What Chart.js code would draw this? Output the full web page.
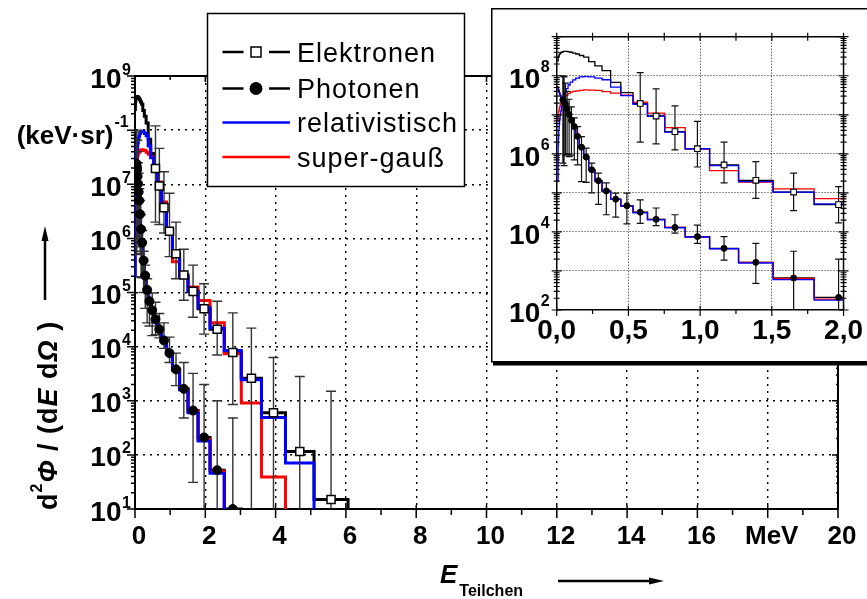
<!DOCTYPE html>
<html>
<head>
<meta charset="utf-8">
<script src="https://cdn.jsdelivr.net/npm/chart.js@4.4.1/dist/chart.umd.min.js"></script>
<style>
  html, body { margin: 0; padding: 0; background: #fff; }
  #wrap { position: relative; width: 867px; height: 599px; overflow: hidden; }
  #mainChart { position: absolute; left: 0; top: 0; }
  #insetChart { position: absolute; left: 491px; top: 8px; }
</style>
</head>
<body>
<div id="wrap">
  <canvas id="mainChart" width="867" height="599"></canvas>
  <canvas id="insetChart" width="376" height="358"></canvas>
</div>
<script>
const FONT = '"Liberation Sans", Arial, Helvetica, sans-serif';

// Bin edges in MeV (log spaced energy bins)
const binEdges = [0, 0.010, 0.012, 0.014, 0.017, 0.020, 0.024, 0.028, 0.033, 0.039,
  0.047, 0.056, 0.066, 0.079, 0.094, 0.112, 0.133, 0.158, 0.188, 0.223, 0.266, 0.316,
  0.376, 0.447, 0.532, 0.633, 0.753, 0.896, 1.066, 1.268, 1.509, 1.795, 2.136, 2.541,
  3.024, 3.598, 4.281, 5.094, 6.061];

// d2Phi/(dE dOmega) per bin, (keV sr)^-1 ; 0 = empty bin
const electronMeasured = [2.4e8, 2.9e8, 3.1e8, 3.2e8, 3.5e8, 3.6e8, 3.8e8, 3.9e8, 4.0e8, 4.1e8,
  4.2e8, 4.2e8, 4.2e8, 4.1e8, 4.0e8, 3.8e8, 3.6e8, 3.3e8, 3.0e8, 2.3e8, 1.8e8, 1.35e8,
  6.8e7, 3.7e7, 1.95e7, 9.3e6, 3.7e6, 1.35e6, 5.2e5, 2.1e5, 1.05e5, 5.0e4, 2.1e4, 7.8e3,
  2.6e3, 600, 115, 15];
const electronRel = [2e5, 1.6e6, 2.5e6, 4e6, 5.6e6, 7.4e6, 1e7, 1.26e7, 1.66e7, 2.3e7,
  2.95e7, 3.8e7, 4.7e7, 5.8e7, 6.9e7, 7.8e7, 8.7e7, 9.3e7, 9.5e7, 9.3e7, 8.7e7, 7.9e7,
  5.1e7, 3.1e7, 1.86e7, 9.1e6, 3.6e6, 1.35e6, 5.0e5, 1.95e5, 1.05e5, 5.2e4, 2.2e4, 8.5e3,
  2.45e3, 490, 71, 0];
const electronGauss = [7e6, 1e7, 1.1e7, 1.23e7, 1.38e7, 1.6e7, 1.78e7, 2e7, 2.24e7, 2.45e7,
  2.7e7, 3e7, 3.2e7, 3.55e7, 3.8e7, 4e7, 4.1e7, 4.2e7, 4.35e7, 4.3e7, 4.2e7, 3.9e7,
  3.6e7, 3.2e7, 2.1e7, 1.1e7, 4.7e6, 1.35e6, 3.7e5, 1.9e5, 1.26e5, 7.1e4, 2.75e4, 7.4e3,
  910, 39, 0, 0];
const photonMeasured = [5.2e7, 4.7e7, 4.4e7, 4.1e7, 3.8e7, 3.5e7, 3.2e7, 2.95e7, 2.7e7, 2.4e7,
  2.1e7, 1.86e7, 1.4e7, 1.02e7, 7.2e6, 5e6, 2.8e6, 1.48e6, 8.3e5, 3.9e5, 2.05e5, 1.12e5,
  6.9e4, 4.7e4, 3.2e4, 2.1e4, 1.3e4, 7.6e3, 3.8e3, 1.66e3, 660, 210, 52, 10,
  0, 0, 0, 0];
const photonRel = [5.0e7, 4.6e7, 4.3e7, 4.0e7, 3.7e7, 3.4e7, 3.1e7, 2.85e7, 2.6e7, 2.3e7,
  2.0e7, 1.75e7, 1.35e7, 9.8e6, 7.0e6, 4.8e6, 2.7e6, 1.42e6, 8.0e5, 3.8e5, 2.0e5, 1.1e5,
  6.8e4, 4.6e4, 3.1e4, 2.05e4, 1.28e4, 7.4e3, 3.7e3, 1.6e3, 600, 180, 46, 0,
  0, 0, 0, 0];
const photonGauss = [5.1e7, 4.6e7, 4.3e7, 4.0e7, 3.7e7, 3.4e7, 3.1e7, 2.9e7, 2.65e7, 2.35e7,
  2.05e7, 1.8e7, 1.37e7, 1.0e7, 7.1e6, 4.9e6, 2.75e6, 1.45e6, 8.1e5, 3.85e5, 2.0e5, 1.1e5,
  6.8e4, 4.6e4, 3.15e4, 2.1e4, 1.3e4, 7.5e3, 3.75e3, 1.65e3, 640, 190, 50, 0,
  0, 0, 0, 0];

// error bar limits (null = no marker in that bin, 0 = bar runs off the axis)
const electronErrHigh = [null, null, null, null, null, null, null, null, null, null,
  null, null, null, null, null, null, null, null, null, null, null, null, null, null,
  1.2e8, 4.6e7, 1.7e7, 6.8e6, 2e6, 6.3e5, 3.2e5, 1.45e5, 6.9e4, 4.2e4, 2.2e4, 6.3e3, 2.8e3, 1.5e3];
const electronErrLow = [null, null, null, null, null, null, null, null, null, null,
  null, null, null, null, null, null, null, null, null, null, null, null, null, null,
  2e6, 1.8e6, 1.26e6, 4.6e5, 1.8e5, 7.2e4, 3.5e4, 1.7e4, 7e3, 850, 0, 0, 0, 0];
const photonErrHigh = [null, null, null, null, null, null, null, null, null,
  1e8, 9.3e7, 6.5e7, 4e7, 2.5e7, 1.6e7, 8.3e6, 5e6, 2.75e6, 1.4e6, 5.8e5, 3.2e5, 1.8e5,
  9.8e4, 9.8e4, 6.6e4, 4.1e4, 2.75e4, 1.5e4, 7.6e3, 5.1e3, 3.2e3, 2e3, 1e3, 480,
  null, null, null, null];
const photonErrLow = [null, null, null, null, null, null, null, null, null,
  5.8e5, 5e5, 9.3e5, 1e6, 8.5e5, 9.3e5, 7e5, 5.2e5, 1.95e5, 1.86e5, 1e5, 5.1e4, 2.75e4,
  2.4e4, 1.6e4, 1.66e4, 1.45e4, 9.3e3, 5.1e3, 1.9e3, 480, 31, 0, 0, 0,
  null, null, null, null];

const seriesNames = ['Elektronen', 'Photonen', 'relativistisch', 'super-gauß'];
const mainXTicks = [0, 2, 4, 6, 8, 10, 12, 14, 16, 'MeV', 20];

const FLOOR = 1; // empty bins go below the axis and get clipped

function stepPoints(vals) {
  const pts = vals.map((v, i) => ({ x: binEdges[i], y: v > 0 ? v : FLOOR }));
  const n = vals.length;
  pts.push({ x: binEdges[n], y: pts[n - 1].y });
  pts.push({ x: binEdges[n], y: FLOOR });
  return pts;
}

function markers(vals, hi, lo) {
  const pts = [], h = [], l = [];
  vals.forEach((v, i) => {
    if (hi[i] === null) return;
    pts.push({ x: (binEdges[i] + binEdges[i + 1]) / 2, y: v > 0 ? v : FLOOR });
    h.push(hi[i]);
    l.push(lo[i]);
  });
  return { pts, h, l };
}

function buildDatasets(s) {
  const line = (vals, color, order) => ({
    data: stepPoints(vals), borderColor: color, borderWidth: s.lw, stepped: 'before',
    pointRadius: 0, fill: false, order, borderJoinStyle: 'miter'
  });
  const e = markers(electronMeasured, electronErrHigh, electronErrLow);
  const p = markers(photonMeasured, photonErrHigh, photonErrLow);
  return [
    line(electronMeasured, '#000', 3),
    line(photonMeasured, '#000', 3),
    line(electronGauss, '#ff0000', 2),
    line(photonGauss, '#ff0000', 2),
    line(electronRel, '#0000ff', 1),
    line(photonRel, '#0000ff', 1),
    { data: e.pts, errHigh: e.h, errLow: e.l, showLine: false, order: 0, clip: 0,
      pointStyle: 'rect', pointRadius: s.sq, pointBackgroundColor: '#fff',
      pointBorderColor: '#000', pointBorderWidth: s.mw },
    { data: p.pts, errHigh: p.h, errLow: p.l, showLine: false, order: 0, clip: 0,
      pointStyle: 'circle', pointRadius: s.dot, pointBackgroundColor: '#000',
      pointBorderColor: '#000', pointBorderWidth: 1 }
  ];
}

function isDecade(v) {
  const l = Math.log10(v);
  return Math.abs(l - Math.round(l)) < 1e-6;
}

// error bars are drawn just before the marker dataset
const errorBars = {
  id: 'errorBars',
  beforeDatasetDraw(chart, args, opts) {
    const ds = chart.data.datasets[args.index];
    if (!ds.errHigh) return;
    const { ctx, chartArea: a, scales: { x, y } } = chart;
    ctx.save();
    ctx.beginPath();
    ctx.rect(a.left, a.top, a.right - a.left, a.bottom - a.top);
    ctx.clip();
    ctx.strokeStyle = opts.color;
    ctx.lineWidth = opts.width;
    ctx.beginPath();
    ds.data.forEach((pt, i) => {
      const px = x.getPixelForValue(pt.x);
      const yh = y.getPixelForValue(ds.errHigh[i]);
      const lo = ds.errLow[i] > 0 ? ds.errLow[i] : FLOOR;
      const yl = y.getPixelForValue(lo);
      ctx.moveTo(px, yh); ctx.lineTo(px, yl);
      ctx.moveTo(px - opts.cap, yh); ctx.lineTo(px + opts.cap, yh);
      if (ds.errLow[i] > 0) { ctx.moveTo(px - opts.cap, yl); ctx.lineTo(px + opts.cap, yl); }
    });
    ctx.stroke();
    ctx.restore();
  }
};

function drawRich(ctx, segs, x, y) {
  let cx = x;
  segs.forEach(sg => {
    ctx.font = sg.font;
    ctx.fillText(sg.t, cx, y + (sg.dy || 0));
    cx += ctx.measureText(sg.t).width;
  });
}

function drawLegend(ctx) {
  ctx.save();
  ctx.fillStyle = '#fff';
  ctx.fillRect(207.5, 13.5, 257, 173);
  ctx.strokeStyle = '#000';
  ctx.lineWidth = 1.5;
  ctx.strokeRect(207.5, 13.5, 257, 173);
  const rows = [
    { color: '#000', mark: 'square', y: 52 },
    { color: '#000', mark: 'circle', y: 88.5 },
    { color: '#0000ff', y: 122.5 },
    { color: '#ff0000', y: 157 }
  ];
  rows.forEach((r, i) => {
    ctx.strokeStyle = r.color;
    ctx.lineWidth = 2.5;
    ctx.beginPath();
    if (r.mark) {
      ctx.moveTo(222.5, r.y); ctx.lineTo(243.5, r.y);
      ctx.moveTo(269, r.y); ctx.lineTo(290, r.y);
    } else {
      ctx.moveTo(222.5, r.y); ctx.lineTo(290, r.y);
    }
    ctx.stroke();
    ctx.lineWidth = 1.5;
    if (r.mark === 'square') {
      ctx.fillStyle = '#fff';
      ctx.fillRect(251, r.y - 5, 10, 10);
      ctx.strokeRect(251, r.y - 5, 10, 10);
    } else if (r.mark === 'circle') {
      ctx.fillStyle = '#000';
      ctx.beginPath(); ctx.arc(256, r.y, 6.5, 0, Math.PI * 2); ctx.fill();
    }
    ctx.fillStyle = '#000';
    ctx.font = `27px ${FONT}`;
    ctx.letterSpacing = '1px';
    ctx.textAlign = 'left';
    ctx.textBaseline = 'alphabetic';
    ctx.fillText(seriesNames[i], 297, r.y + 9.5);
    ctx.letterSpacing = '0px';
  });
  ctx.restore();
}

const mainDecor = {
  id: 'mainDecor',
  afterDraw(chart) {
    const { ctx, chartArea: a, scales: { x, y } } = chart;
    ctx.save();
    ctx.strokeStyle = '#000';
    ctx.fillStyle = '#000';
    ctx.lineWidth = 2;
    ctx.beginPath();
    ctx.moveTo(a.left - 1, a.top); ctx.lineTo(a.right, a.top); ctx.lineTo(a.right, a.bottom);
    ctx.stroke();

    // tick marks
    ctx.lineWidth = 1.5;
    ctx.beginPath();
    for (let e = 0; e <= 20; e++) {
      const px = x.getPixelForValue(e);
      const major = e % 2 === 0;
      ctx.moveTo(px, a.bottom - (major ? 4 : 0)); ctx.lineTo(px, a.bottom + (major ? 9 : 6));
      ctx.moveTo(px, a.top); ctx.lineTo(px, a.top + (major ? 6 : 4));
    }
    for (let n = 1; n <= 9; n++) {
      for (let m = 1; m <= 9; m++) {
        if (n === 9 && m > 1) break;
        const py = y.getPixelForValue(m * Math.pow(10, n));
        const len = m === 1 ? 8 : 4;
        ctx.moveTo(a.left - len, py); ctx.lineTo(a.left, py);
        ctx.moveTo(a.right - len + 2, py); ctx.lineTo(a.right, py);
      }
    }
    ctx.stroke();

    // y tick labels with exponents
    ctx.textBaseline = 'alphabetic';
    for (let n = 1; n <= 9; n++) {
      const py = y.getPixelForValue(Math.pow(10, n));
      if (n === 8) {
        ctx.textAlign = 'right';
        ctx.font = `bold 26px ${FONT}`;
        ctx.fillText('(keV·sr)', 113.5, py + 13.5);
        ctx.textAlign = 'left';
        ctx.font = `bold 16px ${FONT}`;
        ctx.fillText('-1', 114.5, py - 3);
      } else {
        ctx.textAlign = 'right';
        ctx.font = `bold 28px ${FONT}`;
        ctx.fillText('10', 121.5, py + 11.5);
        ctx.textAlign = 'left';
        ctx.font = `bold 16px ${FONT}`;
        ctx.fillText(String(n), 122, py - 1.5);
      }
    }

    // y axis title, rotated
    ctx.save();
    ctx.translate(57, 510);
    ctx.rotate(-Math.PI / 2);
    ctx.textAlign = 'left';
    ctx.letterSpacing = '1px';
    const b = `bold 27px ${FONT}`, bi = `italic bold 27px ${FONT}`;
    drawRich(ctx, [
      { t: 'd', font: b }, { t: '2', font: `bold 16px ${FONT}`, dy: -15 },
      { t: 'Φ', font: bi }, { t: ' / (d', font: b }, { t: 'E', font: bi },
      { t: ' d', font: b }, { t: 'Ω', font: bi }, { t: ' )', font: b }
    ], 0, 0);
    ctx.letterSpacing = '0px';
    ctx.restore();
    ctx.lineWidth = 2.5;
    ctx.beginPath(); ctx.moveTo(45, 300); ctx.lineTo(45, 238); ctx.stroke();
    ctx.beginPath(); ctx.moveTo(45, 226); ctx.lineTo(41.5, 241); ctx.lineTo(48.5, 241); ctx.closePath(); ctx.fill();

    // x axis title
    ctx.textAlign = 'left';
    ctx.font = `italic bold 26px ${FONT}`;
    ctx.fillText('E', 440, 583);
    const ew = ctx.measureText('E').width;
    ctx.font = `bold 16px ${FONT}`;
    ctx.fillText('Teilchen', 440 + ew + 2, 596);
    ctx.beginPath(); ctx.moveTo(558, 581); ctx.lineTo(652, 581); ctx.stroke();
    ctx.beginPath(); ctx.moveTo(664, 581); ctx.lineTo(649, 577.5); ctx.lineTo(649, 584.5); ctx.closePath(); ctx.fill();

    drawLegend(ctx);
    ctx.restore();
  }
};

const insetDecor = {
  id: 'insetDecor',
  beforeDraw(chart) {
    const { ctx, width } = chart;
    ctx.save();
    ctx.fillStyle = '#fff';
    ctx.fillRect(0, 0, width, 354);
    ctx.strokeStyle = '#000';
    ctx.lineWidth = 1.5;
    ctx.strokeRect(0.75, 0.75, width + 5, 353);
    ctx.fillStyle = '#000';
    ctx.fillRect(2, 353.5, width, 4);
    ctx.restore();
  },
  afterDraw(chart) {
    const { ctx, chartArea: a, scales: { x, y } } = chart;
    ctx.save();
    ctx.strokeStyle = '#000';
    ctx.fillStyle = '#000';
    ctx.lineWidth = 1.5;
    ctx.beginPath();
    ctx.moveTo(a.left, a.top); ctx.lineTo(a.right, a.top); ctx.lineTo(a.right, a.bottom);
    ctx.stroke();
    ctx.lineWidth = 1.2;
    ctx.beginPath();
    for (let k = 0; k <= 8; k++) {
      const px = x.getPixelForValue(k * 0.25);
      const major = k % 2 === 0;
      ctx.moveTo(px, a.bottom - (major ? 4 : 0)); ctx.lineTo(px, a.bottom + (major ? 6 : 4));
      ctx.moveTo(px, a.top - 4); ctx.lineTo(px, a.top + 4);
    }
    for (let n = 2; n <= 9; n++) {
      for (let m = 1; m <= 9; m++) {
        if (n === 9 && m > 1) break;
        const py = y.getPixelForValue(m * Math.pow(10, n));
        const len = m === 1 ? 5 : 3;
        ctx.moveTo(a.left - len, py); ctx.lineTo(a.left + len, py);
        ctx.moveTo(a.right - len, py); ctx.lineTo(a.right + len, py);
      }
    }
    ctx.stroke();
    ctx.textBaseline = 'alphabetic';
    for (let n = 2; n <= 8; n += 2) {
      const py = y.getPixelForValue(Math.pow(10, n));
      ctx.textAlign = 'right';
      ctx.font = `bold 28px ${FONT}`;
      ctx.fillText('10', a.left - 16.5, py + 12);
      ctx.textAlign = 'left';
      ctx.font = `bold 16px ${FONT}`;
      ctx.fillText(String(n), a.left - 16, py - 4);
    }
    ctx.restore();
  }
};

const transparent = 'rgba(0,0,0,0)';

new Chart(document.getElementById('mainChart'), {
  type: 'line',
  data: { datasets: buildDatasets({ lw: 3, sq: 5.7, dot: 4.5, mw: 1.5 }) },
  options: {
    responsive: false,
    animation: false,
    events: [],
    layout: { padding: { left: 0, right: 29, top: 76, bottom: 0 } },
    plugins: {
      legend: { display: false },
      tooltip: { enabled: false },
      errorBars: { color: '#333', width: 1.4, cap: 5 }
    },
    scales: {
      x: {
        type: 'linear', min: 0, max: 20,
        afterFit: s => { s.height = 90; },
        ticks: {
          stepSize: 2, autoSkip: false, maxRotation: 0, padding: 12, labelOffset: 4,
          color: '#000', font: { family: FONT, size: 26, weight: 'bold' },
          callback: (v, i) => mainXTicks[i]
        },
        grid: {
          color: c => (c.tick && c.tick.value > 0 && c.tick.value < 20) ? '#000' : transparent,
          lineWidth: 1.4, drawTicks: false
        },
        border: { color: '#000', width: 2, dash: [2, 5] }
      },
      y: {
        type: 'logarithmic', min: 10, max: 1e9,
        afterFit: s => { s.width = 135; },
        ticks: { display: false, autoSkip: false },
        grid: {
          color: c => (c.tick && isDecade(c.tick.value) && c.tick.value > 10 && c.tick.value < 1e9) ? '#000' : transparent,
          lineWidth: 1.4, drawTicks: false
        },
        border: { color: '#000', width: 2, dash: [2, 5] }
      }
    }
  },
  plugins: [errorBars, mainDecor]
});

new Chart(document.getElementById('insetChart'), {
  type: 'line',
  data: { datasets: buildDatasets({ lw: 1.3, sq: 4, dot: 3, mw: 1.1 }) },
  options: {
    responsive: false,
    animation: false,
    events: [],
    layout: { padding: { left: 0, right: 22.7, top: 28.7, bottom: 0 } },
    plugins: {
      legend: { display: false },
      tooltip: { enabled: false },
      errorBars: { color: '#111', width: 1.2, cap: 3.5 }
    },
    scales: {
      x: {
        type: 'linear', min: 0, max: 2,
        afterFit: s => { s.height = 56; },
        ticks: {
          stepSize: 0.5, autoSkip: false, maxRotation: 0, padding: 4,
          color: '#000', font: { family: FONT, size: 28, weight: 'bold' },
          callback: v => v.toFixed(1).replace('.', ',')
        },
        grid: {
          color: c => (c.tick && c.tick.value > 0 && c.tick.value < 2) ? '#222' : transparent,
          lineWidth: 1, drawTicks: false
        },
        border: { color: '#000', width: 1.5, dash: [1, 2] }
      },
      y: {
        type: 'logarithmic', min: 100, max: 1e9,
        afterFit: s => { s.width = 65.7; },
        ticks: { display: false, autoSkip: false },
        grid: {
          color: c => (c.tick && isDecade(c.tick.value) && c.tick.value > 100 && c.tick.value < 1e9) ? '#222' : transparent,
          lineWidth: 1, drawTicks: false
        },
        border: { color: '#000', width: 1.5, dash: [1, 2] }
      }
    }
  },
  plugins: [errorBars, insetDecor]
});
</script>
</body>
</html>
